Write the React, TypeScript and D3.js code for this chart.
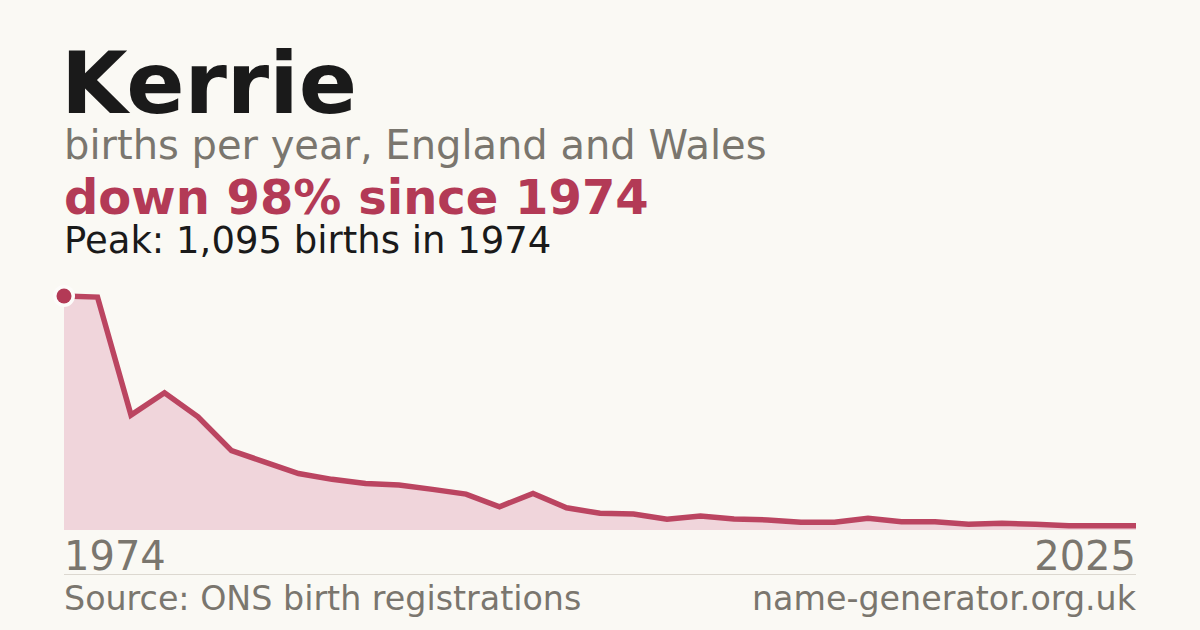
import React from "react";
import * as d3 from "d3";

const NAME = "Kerrie";
const SUBTITLE = "births per year, England and Wales";
const CHANGE_TEXT = "down 98% since 1974";
const PEAK_TEXT = "Peak: 1,095 births in 1974";
const START_LABEL = "1974";
const END_LABEL = "2025";
const SOURCE = "Source: ONS birth registrations";
const SITE = "name-generator.org.uk";

const births: number[] = [
  1095, 1090, 538, 642, 530, 371, 318, 264, 237, 218, 211, 190, 168, 109, 171,
  104, 78, 75, 50, 65, 51, 47, 36, 36, 55, 39, 39, 27, 31, 27, 20, 20, 20,
];

const W = 1200;
const H = 630;
const LEFT = 64;
const RIGHT = 1136;
const TOP = 296;
const BOTTOM = 530;
const FONT = "'DejaVu Sans', sans-serif";

export default function App() {
  const x = d3
    .scalePoint<number>()
    .domain(births.map((_, i) => i))
    .range([LEFT, RIGHT]);
  const y = d3
    .scaleLinear()
    .domain([0, d3.max(births) as number])
    .range([BOTTOM, TOP]);

  const area = d3
    .area<number>()
    .x((_, i) => x(i) as number)
    .y0(BOTTOM)
    .y1((d) => y(d));
  const line = d3
    .line<number>()
    .x((_, i) => x(i) as number)
    .y((d) => y(d));

  const peakIdx = births.indexOf(d3.max(births) as number);

  return (
    <svg
      width={W}
      height={H}
      viewBox={`0 0 ${W} ${H}`}
      style={{ position: "absolute", left: 0, top: 0, display: "block" }}
      fontFamily={FONT}
    >
      <rect width={W} height={H} fill="#faf9f4" />
      <text x={LEFT - 3} y={113} fontSize={86} fontWeight="bold" fill="#1a1a1a">
        {NAME}
      </text>
      <text x={LEFT} y={159} fontSize={40} fill="#7a766e">
        {SUBTITLE}
      </text>
      <text x={LEFT} y={214} fontSize={48} fontWeight="bold" fill="#b33a56">
        {CHANGE_TEXT}
      </text>
      <text x={LEFT} y={253} fontSize={37} fill="#1a1a1a">
        {PEAK_TEXT}
      </text>

      <path d={area(births) as string} fill="#f0d5db" />
      <path
        d={line(births) as string}
        fill="none"
        stroke="#bb4561"
        strokeWidth={5.5}
        strokeLinejoin="miter"
      />
      <circle
        cx={x(peakIdx) as number}
        cy={y(births[peakIdx])}
        r={11}
        fill="#fdfcfa"
      />
      <circle
        cx={x(peakIdx) as number}
        cy={y(births[peakIdx])}
        r={7.5}
        fill="#b33a56"
      />

      <text x={LEFT} y={570} fontSize={40} fill="#7a766e">
        {START_LABEL}
      </text>
      <text x={RIGHT} y={570} fontSize={40} fill="#7a766e" textAnchor="end">
        {END_LABEL}
      </text>
      <line x1={LEFT} x2={RIGHT} y1={574.5} y2={574.5} stroke="#dcd8d0" strokeWidth={1} />
      <text x={LEFT} y={610} fontSize={33.3} fill="#7a766e">
        {SOURCE}
      </text>
      <text x={RIGHT} y={610} fontSize={33.3} fill="#7a766e" textAnchor="end">
        {SITE}
      </text>
    </svg>
  );
}
